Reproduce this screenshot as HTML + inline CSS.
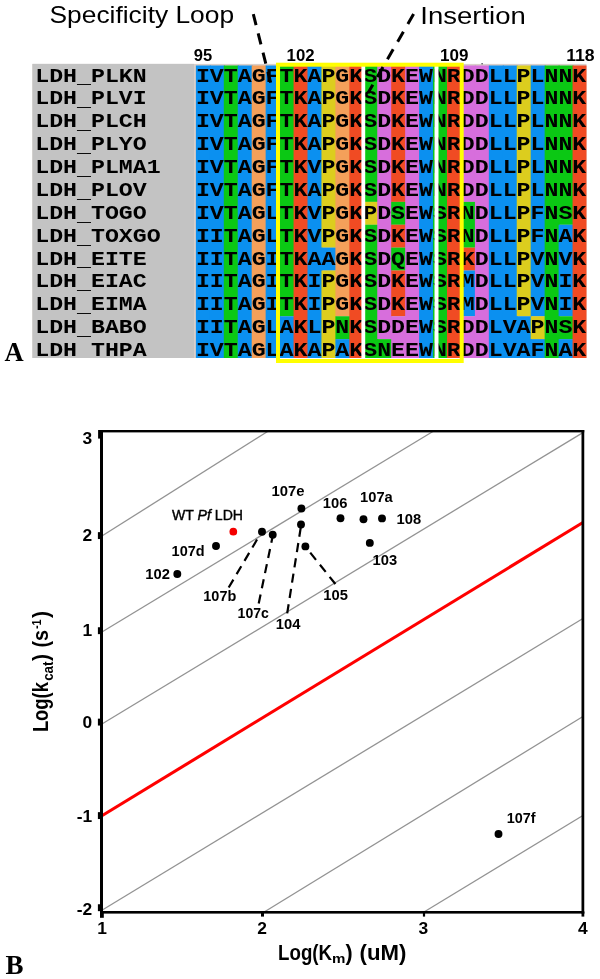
<!DOCTYPE html>
<html lang="en"><head><meta charset="utf-8"><title>Figure</title>
<style>html,body{margin:0;padding:0;background:#fff}svg{display:block}text{font-family:"Liberation Sans",sans-serif;fill:#000}.m{font-family:"Liberation Mono",monospace;font-weight:bold}.b{font-weight:bold}.s{font-family:"Liberation Serif",serif;font-weight:bold}</style></head>
<body>
<svg width="600" height="979" viewBox="0 0 600 979">
<rect width="600" height="979" fill="#fff"/>
<g id="panelA">
<clipPath id="ca"><rect x="30" y="60" width="560" height="298"/></clipPath>
<rect x="32.4" y="63.9" width="554.1" height="294.1" fill="#d9cfca"/>
<rect x="32.4" y="63.9" width="161.6" height="294.1" fill="#c3c3c3"/>
<rect x="195.9" y="65.5" width="14.95" height="292.5" fill="#0b90f0"/>
<rect x="209.85" y="65.5" width="14.95" height="292.5" fill="#0b90f0"/>
<rect x="223.8" y="65.5" width="14.95" height="292.5" fill="#0bc814"/>
<rect x="237.75" y="65.5" width="14.95" height="292.5" fill="#0b90f0"/>
<rect x="251.7" y="65.5" width="14.95" height="292.5" fill="#f4a05a"/>
<rect x="265.65" y="65.5" width="14.95" height="292.5" fill="#0b90f0"/>
<rect x="279.6" y="65.5" width="14.95" height="250.78" fill="#0bc814"/>
<rect x="279.6" y="316.28" width="14.95" height="41.72" fill="#0b90f0"/>
<rect x="293.55" y="65.5" width="14.95" height="292.5" fill="#f04b23"/>
<rect x="307.5" y="65.5" width="14.95" height="292.5" fill="#0b90f0"/>
<rect x="321.45" y="65.5" width="14.95" height="182.14" fill="#dccd1e"/>
<rect x="321.45" y="247.64" width="14.95" height="22.88" fill="#0b90f0"/>
<rect x="321.45" y="270.52" width="14.95" height="87.48" fill="#dccd1e"/>
<rect x="335.4" y="65.5" width="14.95" height="250.78" fill="#f4a05a"/>
<rect x="335.4" y="316.28" width="14.95" height="22.88" fill="#0bc814"/>
<rect x="335.4" y="339.16" width="14.95" height="18.84" fill="#0b90f0"/>
<rect x="349.35" y="65.5" width="14.95" height="292.5" fill="#f04b23"/>
<rect x="363.3" y="65.5" width="14.95" height="136.38" fill="#0bc814"/>
<rect x="363.3" y="201.88" width="14.95" height="22.88" fill="#dccd1e"/>
<rect x="363.3" y="224.76" width="14.95" height="133.24" fill="#0bc814"/>
<rect x="377.25" y="65.5" width="14.95" height="273.66" fill="#d76edc"/>
<rect x="377.25" y="339.16" width="14.95" height="18.84" fill="#0bc814"/>
<rect x="391.2" y="65.5" width="14.95" height="136.38" fill="#f04b23"/>
<rect x="391.2" y="201.88" width="14.95" height="22.88" fill="#0bc814"/>
<rect x="391.2" y="224.76" width="14.95" height="22.88" fill="#f04b23"/>
<rect x="391.2" y="247.64" width="14.95" height="22.88" fill="#0bc814"/>
<rect x="391.2" y="270.52" width="14.95" height="45.76" fill="#f04b23"/>
<rect x="391.2" y="316.28" width="14.95" height="41.72" fill="#d76edc"/>
<rect x="405.15" y="65.5" width="14.95" height="292.5" fill="#d76edc"/>
<rect x="419.1" y="65.5" width="14.95" height="292.5" fill="#0b90f0"/>
<rect x="433.05" y="65.5" width="14.95" height="292.5" fill="#0bc814"/>
<rect x="447" y="65.5" width="14.95" height="292.5" fill="#f04b23"/>
<rect x="460.95" y="65.5" width="14.95" height="136.38" fill="#d76edc"/>
<rect x="460.95" y="201.88" width="14.95" height="45.76" fill="#0bc814"/>
<rect x="460.95" y="247.64" width="14.95" height="22.88" fill="#f04b23"/>
<rect x="460.95" y="270.52" width="14.95" height="45.76" fill="#0b90f0"/>
<rect x="460.95" y="316.28" width="14.95" height="41.72" fill="#d76edc"/>
<rect x="474.9" y="65.5" width="14.95" height="292.5" fill="#d76edc"/>
<rect x="488.85" y="65.5" width="14.95" height="292.5" fill="#0b90f0"/>
<rect x="502.8" y="65.5" width="14.95" height="292.5" fill="#0b90f0"/>
<rect x="516.75" y="65.5" width="14.95" height="250.78" fill="#dccd1e"/>
<rect x="516.75" y="316.28" width="14.95" height="41.72" fill="#0b90f0"/>
<rect x="530.7" y="65.5" width="14.95" height="250.78" fill="#0b90f0"/>
<rect x="530.7" y="316.28" width="14.95" height="22.88" fill="#dccd1e"/>
<rect x="530.7" y="339.16" width="14.95" height="18.84" fill="#0b90f0"/>
<rect x="544.65" y="65.5" width="14.95" height="292.5" fill="#0bc814"/>
<rect x="558.6" y="65.5" width="14.95" height="159.26" fill="#0bc814"/>
<rect x="558.6" y="224.76" width="14.95" height="91.52" fill="#0b90f0"/>
<rect x="558.6" y="316.28" width="14.95" height="22.88" fill="#0bc814"/>
<rect x="558.6" y="339.16" width="14.95" height="18.84" fill="#0b90f0"/>
<rect x="572.55" y="65.5" width="13.95" height="292.5" fill="#f04b23"/>
<g clip-path="url(#ca)">
<text class="m" font-size="23.25" transform="translate(35.2 81.5) scale(1 0.885)">LDH<tspan dy="2.1">_</tspan><tspan dy="-2.1">PLKN</tspan></text>
<text class="m" font-size="23.25" transform="translate(195.9 81.5) scale(1 0.85)">IVTAGFTKAPGKSDKEWNRDDLLPLNNK</text>
<text class="m" font-size="23.25" transform="translate(35.2 104.38) scale(1 0.885)">LDH<tspan dy="2.1">_</tspan><tspan dy="-2.1">PLVI</tspan></text>
<text class="m" font-size="23.25" transform="translate(195.9 104.38) scale(1 0.85)">IVTAGFTKAPGKSDKEWNRDDLLPLNNK</text>
<text class="m" font-size="23.25" transform="translate(35.2 127.26) scale(1 0.885)">LDH<tspan dy="2.1">_</tspan><tspan dy="-2.1">PLCH</tspan></text>
<text class="m" font-size="23.25" transform="translate(195.9 127.26) scale(1 0.85)">IVTAGFTKAPGKSDKEWNRDDLLPLNNK</text>
<text class="m" font-size="23.25" transform="translate(35.2 150.14) scale(1 0.885)">LDH<tspan dy="2.1">_</tspan><tspan dy="-2.1">PLYO</tspan></text>
<text class="m" font-size="23.25" transform="translate(195.9 150.14) scale(1 0.85)">IVTAGFTKAPGKSDKEWNRDDLLPLNNK</text>
<text class="m" font-size="23.25" transform="translate(35.2 173.02) scale(1 0.885)">LDH<tspan dy="2.1">_</tspan><tspan dy="-2.1">PLMA1</tspan></text>
<text class="m" font-size="23.25" transform="translate(195.9 173.02) scale(1 0.85)">IVTAGFTKVPGKSDKEWNRDDLLPLNNK</text>
<text class="m" font-size="23.25" transform="translate(35.2 195.9) scale(1 0.885)">LDH<tspan dy="2.1">_</tspan><tspan dy="-2.1">PLOV</tspan></text>
<text class="m" font-size="23.25" transform="translate(195.9 195.9) scale(1 0.85)">IVTAGFTKAPGKSDKEWNRDDLLPLNNK</text>
<text class="m" font-size="23.25" transform="translate(35.2 218.78) scale(1 0.885)">LDH<tspan dy="2.1">_</tspan><tspan dy="-2.1">TOGO</tspan></text>
<text class="m" font-size="23.25" transform="translate(195.9 218.78) scale(1 0.85)">IVTAGLTKVPGKPDSEWSRNDLLPFNSK</text>
<text class="m" font-size="23.25" transform="translate(35.2 241.66) scale(1 0.885)">LDH<tspan dy="2.1">_</tspan><tspan dy="-2.1">TOXGO</tspan></text>
<text class="m" font-size="23.25" transform="translate(195.9 241.66) scale(1 0.85)">IITAGLTKVPGKSDKEWSRNDLLPFNAK</text>
<text class="m" font-size="23.25" transform="translate(35.2 264.54) scale(1 0.885)">LDH<tspan dy="2.1">_</tspan><tspan dy="-2.1">EITE</tspan></text>
<text class="m" font-size="23.25" transform="translate(195.9 264.54) scale(1 0.85)">IITAGITKAAGKSDQEWSRKDLLPVNVK</text>
<text class="m" font-size="23.25" transform="translate(35.2 287.42) scale(1 0.885)">LDH<tspan dy="2.1">_</tspan><tspan dy="-2.1">EIAC</tspan></text>
<text class="m" font-size="23.25" transform="translate(195.9 287.42) scale(1 0.85)">IITAGITKIPGKSDKEWSRMDLLPVNIK</text>
<text class="m" font-size="23.25" transform="translate(35.2 310.3) scale(1 0.885)">LDH<tspan dy="2.1">_</tspan><tspan dy="-2.1">EIMA</tspan></text>
<text class="m" font-size="23.25" transform="translate(195.9 310.3) scale(1 0.85)">IITAGITKIPGKSDKEWSRMDLLPVNIK</text>
<text class="m" font-size="23.25" transform="translate(35.2 333.18) scale(1 0.885)">LDH<tspan dy="2.1">_</tspan><tspan dy="-2.1">BABO</tspan></text>
<text class="m" font-size="23.25" transform="translate(195.9 333.18) scale(1 0.85)">IITAGLAKLPNKSDDEWSRDDLVAPNSK</text>
<text class="m" font-size="23.25" transform="translate(35.2 356.06) scale(1 0.885)">LDH<tspan dy="2.1">_</tspan><tspan dy="-2.1">THPA</tspan></text>
<text class="m" font-size="23.25" transform="translate(195.9 356.06) scale(1 0.85)">IVTAGLAKAPAKSNEEWNRDDLVAFNAK</text>
</g>
<rect x="361.4" y="64" width="3.8" height="296" fill="#fff"/>
<rect x="434.5" y="64" width="4" height="296" fill="#fff"/>
<rect x="278" y="64.7" width="183.7" height="296.3" fill="none" stroke="#ffff00" stroke-width="4"/>
<rect x="481.5" y="63.1" width="1.2" height="1.2" fill="#223"/>
<text class="b" font-size="16" x="193.8" y="60.7" textLength="18.4" lengthAdjust="spacingAndGlyphs">95</text>
<text class="b" font-size="16" x="286.6" y="60.7" textLength="28" lengthAdjust="spacingAndGlyphs">102</text>
<text class="b" font-size="16" x="440" y="60.7" textLength="28.4" lengthAdjust="spacingAndGlyphs">109</text>
<text class="b" font-size="16" x="566.2" y="60.7" textLength="28.4" lengthAdjust="spacingAndGlyphs">118</text>
<text font-size="23.6" x="49.5" y="22.7" textLength="184.6" lengthAdjust="spacingAndGlyphs">Specificity Loop</text>
<text font-size="24.6" x="420.3" y="23.5" textLength="105.4" lengthAdjust="spacingAndGlyphs">Insertion</text>
<path d="M253.3 14.2L270.8 83.3" stroke="#000" stroke-width="3" stroke-dasharray="11.3 8.5" fill="none"/>
<path d="M413.6 14L368 93" stroke="#000" stroke-width="3" stroke-dasharray="11.5 8.9" fill="none"/>
<text class="s" font-size="26.5" x="4.5" y="361.3">A</text>
</g>
<g id="panelB">
<line x1="101.5" y1="536.3" x2="268" y2="431.2" stroke="#939393" stroke-width="1.3"/>
<line x1="101.5" y1="632.3" x2="433.3" y2="431.2" stroke="#939393" stroke-width="1.3"/>
<line x1="101.5" y1="724.3" x2="582.9" y2="432.6" stroke="#939393" stroke-width="1.3"/>
<line x1="101.5" y1="910.5" x2="582.9" y2="618.5" stroke="#939393" stroke-width="1.3"/>
<line x1="265" y1="911.5" x2="582.9" y2="716.5" stroke="#939393" stroke-width="1.3"/>
<line x1="424.8" y1="911.5" x2="582.9" y2="815.5" stroke="#939393" stroke-width="1.3"/>
<line x1="101.5" y1="816" x2="582.9" y2="522.5" stroke="#ff0000" stroke-width="3.1"/>
<rect x="100" y="430" width="3" height="483.6" fill="#000"/>
<rect x="581.5" y="430" width="2.75" height="483.6" fill="#000"/>
<rect x="100" y="430" width="484.25" height="2.4" fill="#000"/>
<rect x="100" y="911" width="484.25" height="2.6" fill="#000"/>
<rect x="98.1" y="430" width="2.5" height="8.6" fill="#000"/>
<rect x="97.9" y="532.15" width="2.6" height="6.9" fill="#000"/>
<rect x="97.9" y="627.25" width="2.6" height="6.9" fill="#000"/>
<rect x="97.9" y="718.65" width="2.6" height="6.9" fill="#000"/>
<rect x="97.9" y="812.15" width="2.6" height="6.9" fill="#000"/>
<rect x="97.9" y="904.25" width="2.6" height="6.9" fill="#000"/>
<rect x="100" y="912" width="3.8" height="5.8" fill="#000"/>
<rect x="261" y="912" width="3" height="4.6" fill="#000"/>
<rect x="422.9" y="912" width="2.2" height="4.6" fill="#000"/>
<rect x="581.52" y="912" width="2.75" height="4.6" fill="#000"/>
<text class="b" font-size="17.4" x="92.1" y="444.2" text-anchor="end">3</text>
<text class="b" font-size="17.4" x="92.1" y="541.1" text-anchor="end">2</text>
<text class="b" font-size="17.4" x="92.1" y="636.3" text-anchor="end">1</text>
<text class="b" font-size="17.4" x="92.1" y="728.1" text-anchor="end">0</text>
<text class="b" font-size="17.4" x="92.1" y="821.7" text-anchor="end">-1</text>
<text class="b" font-size="17.4" x="92.1" y="914.5" text-anchor="end">-2</text>
<text class="b" font-size="17.4" x="102" y="933.8" text-anchor="middle">1</text>
<text class="b" font-size="17.4" x="262.2" y="933.8" text-anchor="middle">2</text>
<text class="b" font-size="17.4" x="423.3" y="933.8" text-anchor="middle">3</text>
<text class="b" font-size="17.4" x="582.8" y="933.8" text-anchor="middle">4</text>
<text class="b" font-size="21.4" x="278.1" y="960"><tspan textLength="54" lengthAdjust="spacingAndGlyphs">Log(K</tspan><tspan font-size="13" dy="3.2" textLength="13.4" lengthAdjust="spacingAndGlyphs">m</tspan><tspan dy="-3.2">)</tspan></text>
<text class="b" font-size="21.4" x="359.6" y="960" textLength="46.8" lengthAdjust="spacingAndGlyphs">(uM)</text>
<g transform="translate(48.2 732.1) rotate(-90)"><text class="b" font-size="21.4" x="0" y="0" textLength="50" lengthAdjust="spacingAndGlyphs">Log(k</text><text class="b" font-size="14" x="51.3" y="5.2" textLength="19.3" lengthAdjust="spacingAndGlyphs">cat</text><text class="b" font-size="21.4" x="71" y="0">)</text><text class="b" font-size="21.4" x="84.5" y="0" textLength="17.5" lengthAdjust="spacingAndGlyphs">(s</text><text class="b" font-size="13" x="103" y="-7" textLength="9.5" lengthAdjust="spacingAndGlyphs">-1</text><text class="b" font-size="21.4" x="114" y="0">)</text></g>
<line x1="228.7" y1="587.5" x2="261.7" y2="531.7" stroke="#000" stroke-width="2.2" stroke-dasharray="9.2 6.3" fill="none"/>
<line x1="258.7" y1="603.5" x2="273" y2="534.7" stroke="#000" stroke-width="2.2" stroke-dasharray="9.2 6.3" fill="none"/>
<line x1="287.2" y1="613.3" x2="301.2" y2="524.7" stroke="#000" stroke-width="2.2" stroke-dasharray="9.2 6.3" fill="none"/>
<line x1="335.4" y1="584" x2="305.3" y2="546.5" stroke="#000" stroke-width="2.2" stroke-dasharray="9.2 6.3" fill="none"/>
<circle cx="177.3" cy="574" r="3.95" fill="#000"/>
<circle cx="216" cy="546" r="3.95" fill="#000"/>
<circle cx="262" cy="531.7" r="3.95" fill="#000"/>
<circle cx="272.7" cy="534.7" r="3.95" fill="#000"/>
<circle cx="301.4" cy="508.5" r="3.95" fill="#000"/>
<circle cx="301" cy="524.5" r="3.95" fill="#000"/>
<circle cx="305.4" cy="546.4" r="3.95" fill="#000"/>
<circle cx="340.5" cy="518.3" r="3.95" fill="#000"/>
<circle cx="363.5" cy="519.2" r="3.95" fill="#000"/>
<circle cx="382" cy="518.4" r="3.95" fill="#000"/>
<circle cx="369.8" cy="542.9" r="3.95" fill="#000"/>
<circle cx="498.5" cy="834" r="3.95" fill="#000"/>
<circle cx="233.3" cy="531.7" r="3.85" fill="#f40000"/>
<text class="b" font-size="14.2" x="145.3" y="579" textLength="24.6" lengthAdjust="spacingAndGlyphs">102</text>
<text class="b" font-size="14.2" x="171.6" y="555.7" textLength="33" lengthAdjust="spacingAndGlyphs">107d</text>
<text class="b" font-size="14.2" x="271.6" y="495.7" textLength="33" lengthAdjust="spacingAndGlyphs">107e</text>
<text class="b" font-size="14.2" x="203.3" y="601" textLength="33" lengthAdjust="spacingAndGlyphs">107b</text>
<text class="b" font-size="14.2" x="237.6" y="617.7" textLength="31.3" lengthAdjust="spacingAndGlyphs">107c</text>
<text class="b" font-size="14.2" x="275.8" y="629" textLength="24.6" lengthAdjust="spacingAndGlyphs">104</text>
<text class="b" font-size="14.2" x="323.3" y="600" textLength="24.6" lengthAdjust="spacingAndGlyphs">105</text>
<text class="b" font-size="14.2" x="322.8" y="508.3" textLength="24.6" lengthAdjust="spacingAndGlyphs">106</text>
<text class="b" font-size="14.2" x="360.1" y="501.5" textLength="32.7" lengthAdjust="spacingAndGlyphs">107a</text>
<text class="b" font-size="14.2" x="396.5" y="524.2" textLength="24.6" lengthAdjust="spacingAndGlyphs">108</text>
<text class="b" font-size="14.2" x="372.6" y="564.9" textLength="24.6" lengthAdjust="spacingAndGlyphs">103</text>
<text class="b" font-size="14.2" x="506.8" y="822.5" textLength="28.8" lengthAdjust="spacingAndGlyphs">107f</text>
<text font-size="14" stroke="#000" stroke-width="0.4" x="172" y="520" textLength="71" lengthAdjust="spacingAndGlyphs">WT <tspan font-style="italic">Pf</tspan> LDH</text>
<text class="s" font-size="27" x="5.5" y="973.8">B</text>
</g>
</svg>
</body></html>
